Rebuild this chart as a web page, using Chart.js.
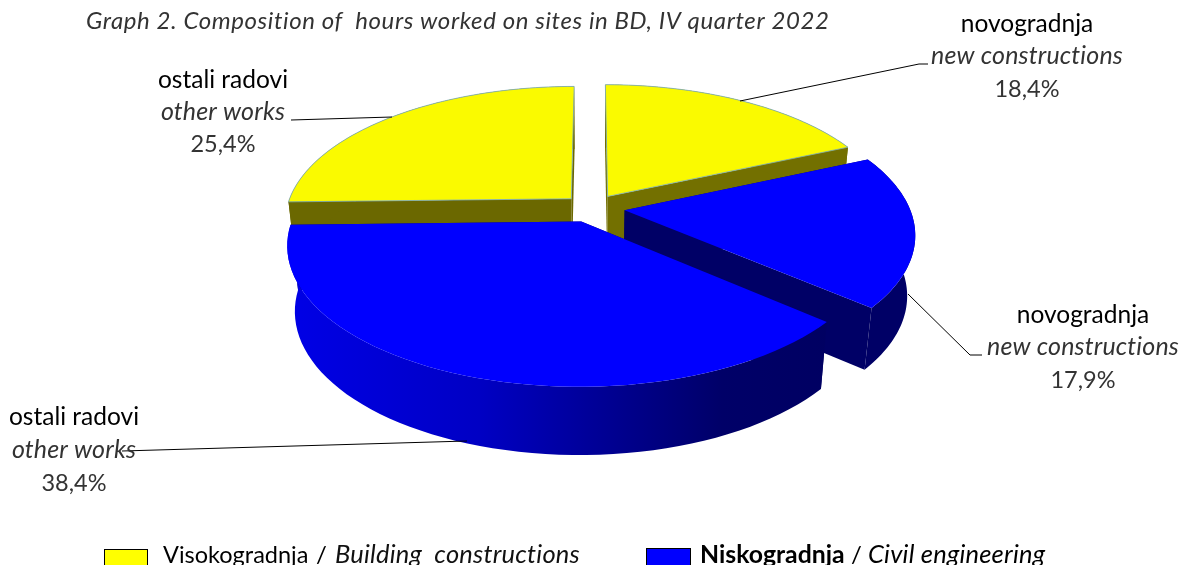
<!DOCTYPE html>
<html>
<head>
<meta charset="utf-8">
<title>Graph 2</title>
<script src="https://cdn.jsdelivr.net/npm/chart.js@4"></script>
<style>
  html, body { margin: 0; padding: 0; background: #fff; overflow: hidden; }
  #wrap { width: 1179px; height: 565px; }
</style>
</head>
<body>
<div id="wrap"><canvas id="pie-chart" width="1179" height="565"></canvas></div>
<script>
const titleText = 'Graph 2. Composition of  hours worked on sites in BD, IV quarter 2022';
const categories = ['novogradnja', 'novogradnja', 'ostali radovi', 'ostali radovi'];
const categoriesEn = ['new constructions', 'new constructions', 'other works', 'other works'];
const shares = [18.4, 17.9, 38.4, 25.4];
const groups = ['Visokogradnja', 'Niskogradnja'];
const groupsEn = ['Building  constructions', 'Civil engineering'];

const topColors = ['#fafa00', '#0000ff', '#0000ff', '#fafa00'];
const cutColors = ['#737000', '#000066', '#000066', '#6b6800'];
const explode = [0.105, 0.117, 0.105, 0.1];
const wallTrim = [0, 5, 0, 0];
const drawOrder = [3, 0, 1, 2];

// fake 3d view: flat pie plane seen through a simple perspective
const view = { cx: 591.5, cy: 208, sx: 285, sy: 133.5, dist: 6.12, shrink: 0.975, drop: 30, dropNear: 35 };

function project(u, v, level, trim) {
    const w = 1 / (1 - v / view.dist);
    let x = view.cx + view.sx * u * w;
    let y = view.cy + view.sy * v * w;
    if (level) {
        x = view.cx + (x - view.cx) * view.shrink;
        y = view.cy + (y - view.cy) * view.shrink + view.drop + view.dropNear * w - trim;
    }
    return [x, y];
}

function slicePoints(arc, i, level) {
    const mid = (arc.startAngle + arc.endAngle) / 2;
    const ou = Math.cos(mid) * explode[i];
    const ov = Math.sin(mid) * explode[i];
    const pts = [];
    const steps = 60;
    for (let k = 0; k <= steps; k++) {
        const a = arc.startAngle + (arc.endAngle - arc.startAngle) * k / steps;
        pts.push(project(ou + Math.cos(a), ov + Math.sin(a), level, wallTrim[i]));
    }
    return { apex: project(ou, ov, level, wallTrim[i]), rim: pts };
}

function fillPoly(ctx, pts, color) {
    ctx.beginPath();
    pts.forEach((p, n) => n ? ctx.lineTo(p[0], p[1]) : ctx.moveTo(p[0], p[1]));
    ctx.closePath();
    ctx.fillStyle = color;
    ctx.fill();
}

function drawSlice(ctx, arc, i) {
    const top = slicePoints(arc, i, 0);
    const low = slicePoints(arc, i, 1);
    const last = top.rim.length - 1;

    fillPoly(ctx, [top.apex, top.rim[0], low.rim[0], low.apex], cutColors[i]);
    fillPoly(ctx, [top.apex, top.rim[last], low.rim[last], low.apex], cutColors[i]);

    let wall = cutColors[i];
    if (i === 2) {
        wall = ctx.createLinearGradient(290, 0, 830, 0);
        wall.addColorStop(0, '#0000e6');
        wall.addColorStop(0.35, '#0000c4');
        wall.addColorStop(0.55, '#00009a');
        wall.addColorStop(0.8, '#000068');
        wall.addColorStop(1, '#000062');
    }
    fillPoly(ctx, top.rim.concat(low.rim.slice().reverse()), wall);

    const face = [top.apex].concat(top.rim);
    fillPoly(ctx, face, topColors[i]);
    if (topColors[i] !== '#0000ff') {
        ctx.beginPath();
        face.forEach((p, n) => n ? ctx.lineTo(p[0], p[1]) : ctx.moveTo(p[0], p[1]));
        ctx.closePath();
        ctx.strokeStyle = 'rgba(120,170,190,0.8)';
        ctx.lineWidth = 1;
        ctx.stroke();
    }
}

function text(ctx, str, x, y, font, color, align, spacing) {
    ctx.font = font;
    ctx.letterSpacing = spacing || '0px';
    ctx.fillStyle = color;
    ctx.textAlign = align || 'center';
    ctx.textBaseline = 'alphabetic';
    ctx.fillText(str, x, y);
}

function leader(ctx, pts) {
    ctx.beginPath();
    pts.forEach((p, n) => n ? ctx.lineTo(p[0], p[1]) : ctx.moveTo(p[0], p[1]));
    ctx.strokeStyle = '#000';
    ctx.lineWidth = 1;
    ctx.stroke();
}

const labelSpots = [
    { x: 1027, y: [32, 64, 97] },
    { x: 1083, y: [323, 355, 388] },
    { x: 74, y: [425, 458, 491] },
    { x: 223, y: [88, 120, 152] }
];
const leaderLines = [
    [[740, 101], [919, 64], [928, 64]],
    [[908, 294], [970, 355], [982, 355]],
    [[467, 441], [122, 451]],
    [[392, 117], [291, 120]]
];

const pie3d = {
    id: 'pie3d',
    beforeDatasetDraw(chart, args) {
        const ctx = chart.ctx;
        const arcs = chart.getDatasetMeta(args.index).data;
        drawOrder.forEach(i => drawSlice(ctx, arcs[i], i));
        return false;
    },
    afterDraw(chart) {
        const ctx = chart.ctx;
        ctx.save();
        leaderLines.forEach(l => leader(ctx, l));

        text(ctx, titleText, 86, 29, 'italic 400 24px Lato', '#333', 'left', '0.6px');

        shares.forEach((v, i) => {
            const spot = labelSpots[i];
            text(ctx, categories[i], spot.x, spot.y[0], '400 24.5px Lato', '#000');
            text(ctx, categoriesEn[i], spot.x, spot.y[1], 'italic 400 25px Lato', '#333', 'center', '0.15px');
            text(ctx, v.toFixed(1).replace('.', ',') + '%', spot.x, spot.y[2], '400 23.5px Lato', '#333');
        });

        // legend, runs off the bottom of the picture like the original
        ctx.lineWidth = 1;
        ctx.strokeStyle = '#000';
        ctx.fillStyle = '#ffff00';
        ctx.fillRect(104, 549, 43, 20);
        ctx.strokeRect(104.5, 549.5, 43, 20);
        ctx.fillStyle = '#0000ff';
        ctx.fillRect(646, 548, 44, 20);
        ctx.strokeRect(646.5, 548.5, 44, 20);

        text(ctx, groups[0], 163, 563, '400 23.5px Lato', '#000', 'left');
        text(ctx, '/', 316, 563, '400 24px Lato', '#000', 'left');
        text(ctx, groupsEn[0], 335, 563, 'italic 400 25.5px Lato', '#111', 'left', '0.2px');

        text(ctx, groups[1], 700, 563, '700 24.8px Lato', '#000', 'left');
        text(ctx, '/', 851, 563, '400 24px Lato', '#000', 'left');
        text(ctx, groupsEn[1], 868, 563, 'italic 400 25.5px Lato', '#000', 'left', '0.2px');
        ctx.restore();
    }
};

new Chart(document.getElementById('pie-chart').getContext('2d'), {
    type: 'pie',
    data: {
        labels: categories,
        datasets: [{ data: shares, backgroundColor: topColors, borderWidth: 0 }]
    },
    options: {
        responsive: false,
        animation: false,
        plugins: { legend: { display: false }, title: { display: false }, tooltip: { enabled: false } }
    },
    plugins: [pie3d]
});
</script>
</body>
</html>
